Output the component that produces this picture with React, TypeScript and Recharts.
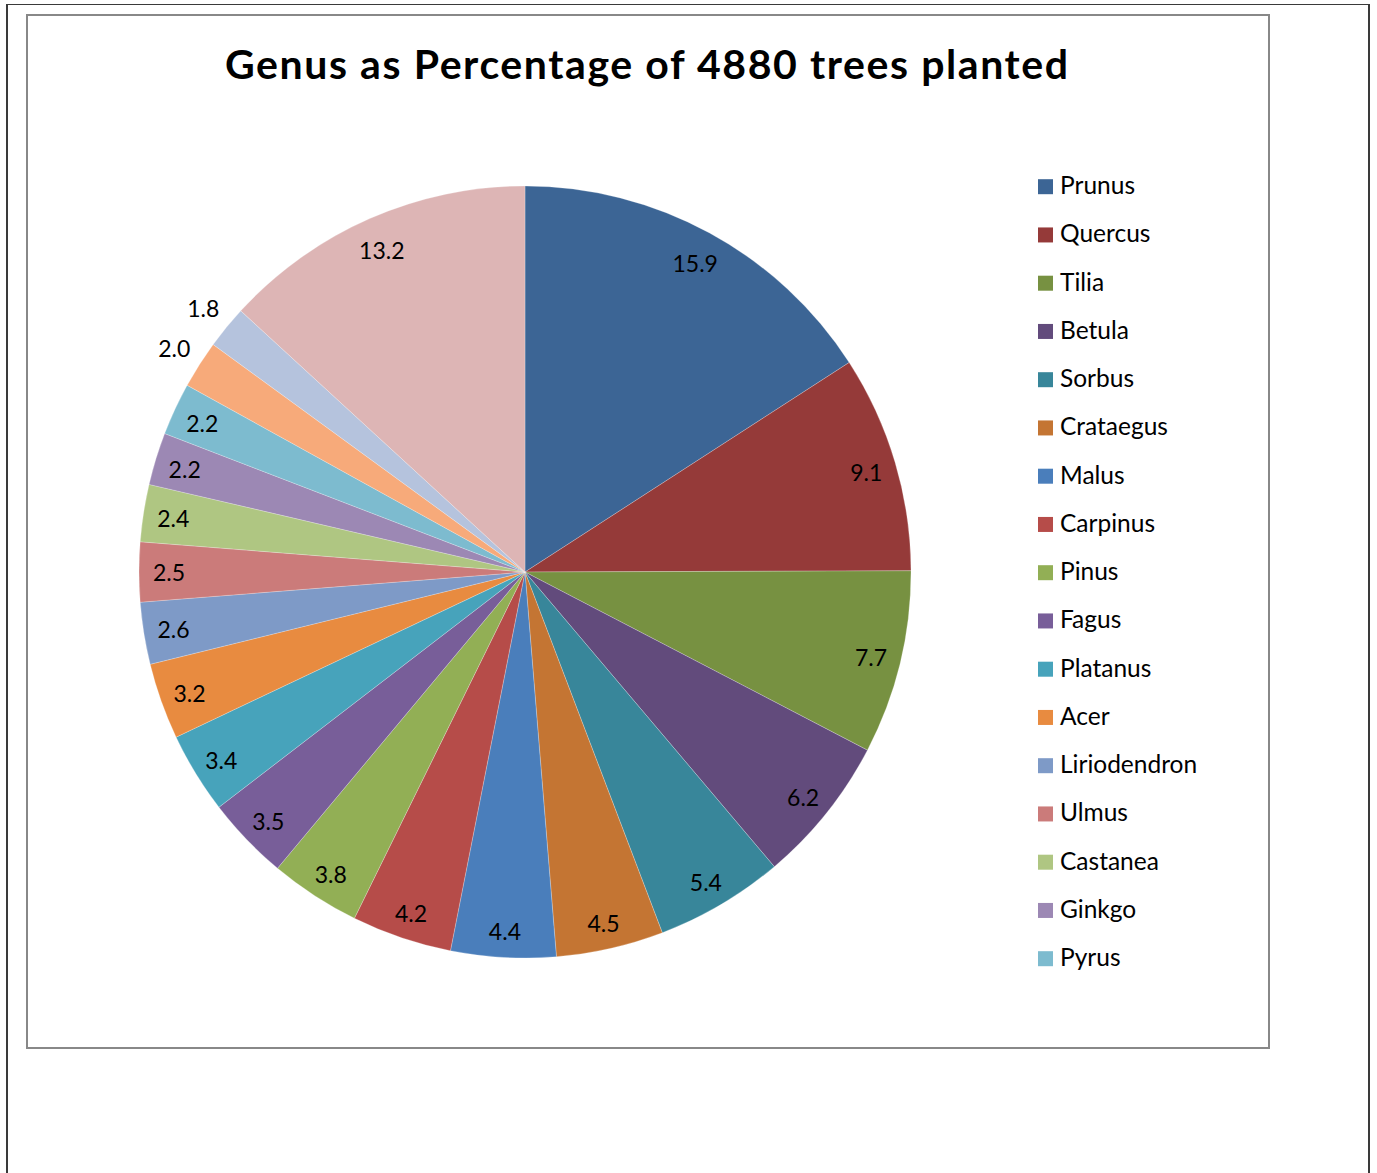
import React from 'react';
import { PieChart, Pie, Cell, Legend } from 'recharts';

const chartTitle = 'Genus as Percentage of 4880 trees planted';

const genera = [
  'Prunus', 'Quercus', 'Tilia', 'Betula', 'Sorbus', 'Crataegus', 'Malus', 'Carpinus',
  'Pinus', 'Fagus', 'Platanus', 'Acer', 'Liriodendron', 'Ulmus', 'Castanea', 'Ginkgo',
  'Pyrus', 'Aesculus', 'Alnus', 'Other',
];

const percentages = [
  15.9, 9.1, 7.7, 6.2, 5.4, 4.5, 4.4, 4.2,
  3.8, 3.5, 3.4, 3.2, 2.6, 2.5, 2.4, 2.2,
  2.2, 2.0, 1.8, 13.2,
];

const sliceColors = [
  '#3C6595', '#953A39', '#779141', '#624B7C', '#38869A', '#C47533', '#4A7EBB', '#B64C49',
  '#92AF55', '#785E99', '#47A3BB', '#E88B40', '#7E9AC7', '#CB7B7A', '#AFC682', '#9C88B4',
  '#7DBBCF', '#F7AA7A', '#B5C3DD', '#DDB5B5',
];

// Excel truncates the legend after this many entries
const legendCount = 17;

const data = genera.map((name, i) => ({ name, value: percentages[i] }));

const FONT = 'Lato, "Open Sans", sans-serif';
const RAD = Math.PI / 180;

const renderLabel = (props: any) => {
  const { cx, cy, midAngle, outerRadius, value } = props;
  const outside = value < 2.1;
  const r = outside ? outerRadius + 30 : outerRadius - 30;
  const x = cx + r * Math.cos(-midAngle * RAD);
  const yOff = outside ? 0 : 4 * Math.abs(Math.sin(midAngle * RAD));
  const y = cy + r * Math.sin(-midAngle * RAD) + yOff;
  return (
    <text
      x={x}
      y={y}
      textAnchor="middle"
      dominantBaseline="central"
      fill="#000"
      fontSize={23}
      fontFamily={FONT}
    >
      {Number(value).toFixed(1)}
    </text>
  );
};

const LegendContent = () => {
  const rowGap = 48.25;
  return (
    <svg width={230} height={820} style={{ display: 'block', overflow: 'visible' }}>
      {genera.slice(0, legendCount).map((name, i) => {
        const cy = 16.7 + i * rowGap;
        return (
          <g key={name}>
            <rect x={0} y={cy - 7.5} width={15} height={15} fill={sliceColors[i]} />
            <text x={22} y={cy + 7.5} fontSize={24.5} fontFamily={FONT} fill="#000">
              {name}
            </text>
          </g>
        );
      })}
    </svg>
  );
};

export default function App() {
  return (
    <div
      style={{
        position: 'absolute',
        left: 0,
        top: 0,
        width: 1377,
        height: 1173,
        overflow: 'hidden',
        background: '#fff',
      }}
    >
      <div
        style={{
          position: 'absolute',
          left: 6,
          top: 4,
          width: 1364,
          height: 1175,
          borderLeft: '2px solid #3a3a3a',
          borderRight: '2px solid #3a3a3a',
          borderTop: '1.5px solid #3a3a3a',
          boxSizing: 'border-box',
        }}
      />
      <div
        style={{
          position: 'absolute',
          left: 26,
          top: 14,
          width: 1244,
          height: 1035,
          border: '2px solid #888',
          boxSizing: 'border-box',
        }}
      />
      <div style={{ position: 'absolute', left: 0, top: 0 }}>
        <PieChart width={1377} height={1173} margin={{ top: 0, right: 0, bottom: 0, left: 0 }}>
          <Pie
            data={data}
            dataKey="value"
            nameKey="name"
            cx={525}
            cy={572}
            outerRadius={386}
            startAngle={90}
            endAngle={-270}
            stroke="#ffffff"
            strokeWidth={0.4}
            strokeOpacity={0.6}
            label={renderLabel}
            labelLine={false}
            isAnimationActive={false}
          >
            {data.map((d, i) => (
              <Cell key={d.name} fill={sliceColors[i]} />
            ))}
          </Pie>
          <Legend
            content={() => <LegendContent />}
            wrapperStyle={{ position: 'absolute', left: 1038, top: 170, width: 230, height: 820 }}
          />
        </PieChart>
      </div>
      <svg
        width={1377}
        height={120}
        style={{ position: 'absolute', left: 0, top: 0, pointerEvents: 'none' }}
      >
        <text
          x={646.5}
          y={79}
          textAnchor="middle"
          fontSize={41}
          fontWeight="bold"
          fontFamily={FONT}
          fill="#000"
          textLength={843}
          lengthAdjust="spacing"
        >
          {chartTitle}
        </text>
      </svg>
    </div>
  );
}
